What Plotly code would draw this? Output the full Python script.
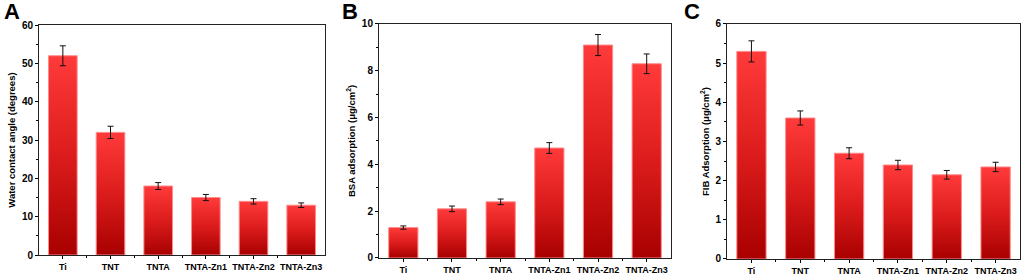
import plotly.graph_objects as go

categories = ["Ti", "TNT", "TNTA", "TNTA-Zn1", "TNTA-Zn2", "TNTA-Zn3"]

wca_values = [52.0, 32.0, 18.0, 15.0, 14.0, 13.0]
wca_errors = [2.6, 1.6, 0.9, 0.8, 0.7, 0.6]

bsa_values = [1.3, 2.1, 2.4, 4.7, 9.1, 8.3]
bsa_errors = [0.07, 0.12, 0.12, 0.23, 0.45, 0.42]

fib_values = [5.3, 3.6, 2.7, 2.4, 2.15, 2.35]
fib_errors = [0.27, 0.18, 0.14, 0.12, 0.11, 0.12]

panels = [
    dict(letter="A", values=wca_values, errors=wca_errors, ymax=60, dtick=10,
         title="Water contact angle (degrees)", xdom=[0.0381, 0.3174], ydom=[0.086, 0.910], lx=0.002),
    dict(letter="B", values=bsa_values, errors=bsa_errors, ymax=10, dtick=2,
         title="BSA adsorption (μg/cm<sup>2</sup>)", xdom=[0.3701, 0.6553], ydom=[0.0753, 0.914], lx=0.332),
    dict(letter="C", values=fib_values, errors=fib_errors, ymax=6, dtick=1,
         title="FIB Adsorption (μg/cm<sup>2</sup>)", xdom=[0.710, 0.9961], ydom=[0.0717, 0.914], lx=0.666),
]

FONT = "Liberation Sans, Arial, sans-serif"
half = 0.3
fig = go.Figure()
layout = dict(
    width=1024, height=279, autosize=False,
    margin=dict(l=0, r=0, t=0, b=0, pad=0),
    paper_bgcolor="white", plot_bgcolor="white",
    showlegend=False,
    font=dict(family=FONT, color="black", size=10),
    annotations=[],
)

for k, p in enumerate(panels):
    xa = "x" if k == 0 else f"x{k+1}"
    ya = "y" if k == 0 else f"y{k+1}"
    for i, v in enumerate(p["values"]):
        fig.add_trace(go.Scatter(
            x=[i - half, i + half, i + half, i - half, i - half],
            y=[0, 0, v, v, 0],
            mode="lines", fill="toself",
            fillgradient=dict(type="vertical",
                              colorscale=[[0, "#a80000"], [0.5, "#dc1c1c"], [1, "#ff3a3a"]]),
            line=dict(color="#ff8a8a", width=1),
            xaxis=xa, yaxis=ya, hoverinfo="skip",
        ))
    fig.add_trace(go.Scatter(
        x=list(range(len(categories))), y=p["values"], mode="markers",
        marker=dict(size=1, color="rgba(0,0,0,0)"),
        error_y=dict(type="data", array=p["errors"], visible=True,
                     color="#111111", thickness=1, width=3),
        xaxis=xa, yaxis=ya,
    ))
    axkey = "xaxis" if k == 0 else f"xaxis{k+1}"
    aykey = "yaxis" if k == 0 else f"yaxis{k+1}"
    layout[axkey] = dict(
        domain=p["xdom"], anchor=ya, range=[-0.5, 5.5], automargin=False,
        tickmode="array", tickvals=list(range(6)), ticktext=categories,
        ticks="outside", ticklen=3, tickwidth=1, tickcolor="black",
        showline=True, linecolor="#222222", linewidth=1, mirror=True,
        showgrid=False, zeroline=False,
        tickfont=dict(size=9, family=FONT, weight="bold"),
        minor=dict(tickvals=[0.5, 1.5, 2.5, 3.5, 4.5], ticks="outside", ticklen=2, tickcolor="black"),
    )
    layout[aykey] = dict(
        domain=p["ydom"], anchor=xa, range=[0, p["ymax"]], automargin=False,
        dtick=p["dtick"], tick0=0,
        ticks="outside", ticklen=3, tickwidth=1, tickcolor="black",
        showline=True, linecolor="#222222", linewidth=1, mirror=True,
        showgrid=False, zeroline=False,
        tickfont=dict(size=10, family=FONT, weight="bold"),
        title=dict(text=p["title"], standoff=4,
                   font=dict(size=9.5, family=FONT, weight="bold")),
        minor=dict(dtick=p["dtick"] / 2, ticks="outside", ticklen=2, tickcolor="black"),
    )
    layout["annotations"].append(dict(
        text=f"<b>{p['letter']}</b>", x=p["lx"], y=1.01, xref="paper", yref="paper",
        xanchor="left", yanchor="top", showarrow=False,
        font=dict(size=22, family=FONT, color="black"),
    ))

fig.update_layout(**layout)
fig.write_html("out.html", config={"displayModeBar": False},
               post_script="document.body.style.margin='0';document.body.style.padding='0';")
